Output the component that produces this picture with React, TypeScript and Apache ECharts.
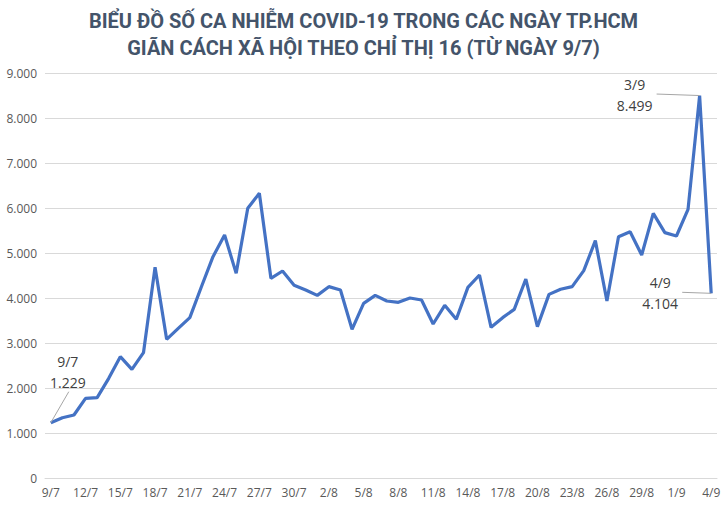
import React, { useEffect, useRef } from "react";
import * as echarts from "echarts";

const titleLines = [
  "BIỂU ĐỒ SỐ CA NHIỄM COVID-19 TRONG CÁC NGÀY TP.HCM",
  "GIÃN CÁCH XÃ HỘI THEO CHỈ THỊ 16 (TỪ NGÀY 9/7)",
];

const days = [
  "9/7", "10/7", "11/7", "12/7", "13/7", "14/7", "15/7", "16/7", "17/7", "18/7",
  "19/7", "20/7", "21/7", "22/7", "23/7", "24/7", "25/7", "26/7", "27/7", "28/7",
  "29/7", "30/7", "31/7", "1/8", "2/8", "3/8", "4/8", "5/8", "6/8", "7/8",
  "8/8", "9/8", "10/8", "11/8", "12/8", "13/8", "14/8", "15/8", "16/8", "17/8",
  "18/8", "19/8", "20/8", "21/8", "22/8", "23/8", "24/8", "25/8", "26/8", "27/8",
  "28/8", "29/8", "30/8", "31/8", "1/9", "2/9", "3/9", "4/9",
];

const cases = [
  1229, 1340, 1400, 1771, 1785, 2215, 2696, 2415, 2785, 4682,
  3082, 3326, 3563, 4250, 4918, 5400, 4548, 5993, 6326, 4437,
  4600, 4282, 4178, 4059, 4252, 4178, 3304, 3881, 4059, 3933,
  3904, 4000, 3956, 3422, 3837, 3526, 4237, 4511, 3348, 3563,
  3748, 4422, 3363, 4081, 4193, 4252, 4607, 5274, 3933, 5363,
  5474, 4956, 5881, 5452, 5378, 5970, 8499, 4104,
];

const annotated = ["9/7", "3/9", "4/9"];
// [label centre dx, label centre dy, leader start dx, leader start dy] relative to the point
const annotationOffset: Record<string, [number, number, number, number]> = {
  "9/7": [17, -51, 18, -31],
  "3/9": [-65, -0.5, -43, -1.5],
  "4/9": [-51, 0, -29, -1],
};

const fmt = (v: number) =>
  String(Math.round(v)).replace(/\B(?=(\d{3})+(?!\d))/g, ".");

export default function App() {
  const ref = useRef<HTMLDivElement>(null);
  useEffect(() => {
    if (!ref.current) return;
    const chart = echarts.init(ref.current, null, { renderer: "svg" });
    const font = "'Open Sans', 'Noto Sans', sans-serif";
    chart.setOption({
      animation: false,
      backgroundColor: "#ffffff",
      title: {
        text: titleLines.join("\n"),
        left: "center",
        top: 2,
        textStyle: {
          fontFamily: "Roboto, 'Noto Sans', sans-serif",
          fontWeight: "bold",
          fontSize: 20,
          lineHeight: 27,
          color: "#44546A",
        },
      },
      grid: { left: 45, right: 10, top: 73, bottom: 30, containLabel: false },
      xAxis: {
        type: "category",
        data: days,
        boundaryGap: true,
        axisLine: { lineStyle: { color: "#D9D9D9" } },
        axisTick: { interval: 2, length: 4, lineStyle: { color: "#D9D9D9" } },
        axisLabel: {
          interval: 2,
          color: "#595959",
          fontSize: 12,
          fontFamily: font,
          margin: 8,
        },
      },
      yAxis: {
        type: "value",
        min: 0,
        max: 9000,
        interval: 1000,
        axisLine: { show: false },
        axisTick: { show: false },
        splitLine: { lineStyle: { color: "#D9D9D9" } },
        axisLabel: {
          color: "#595959",
          fontSize: 12,
          fontFamily: font,
          margin: 8,
          formatter: (v: number) => fmt(v),
        },
      },
      series: [
        {
          type: "line",
          data: cases,
          showSymbol: false,
          lineStyle: { color: "#4472C4", width: 3.2 },
          itemStyle: { color: "#4472C4" },
          emphasis: { disabled: true },
        },
      ],
    });

    const graphics: any[] = [];
    annotated.forEach((name) => {
      const i = days.indexOf(name);
      const p = chart.convertToPixel({ seriesIndex: 0 }, [i, cases[i]]) as number[];
      const o = annotationOffset[name];
      graphics.push({
        type: "line",
        silent: true,
        shape: { x1: p[0] + o[2], y1: p[1] + o[3], x2: p[0], y2: p[1] },
        style: { stroke: "#A6A6A6", lineWidth: 1 },
        z: 10,
      });
      graphics.push({
        type: "text",
        silent: true,
        x: p[0] + o[0],
        y: p[1] + o[1],
        style: {
          text: `${name}\n${fmt(cases[i])}`,
          fill: "#404040",
          font: `14px ${font}`,
          lineHeight: 21,
          align: "center",
          verticalAlign: "middle",
        },
        z: 10,
      });
    });
    chart.setOption({ graphic: graphics });
    return () => chart.dispose();
  }, []);
  return (
    <div
      ref={ref}
      style={{ position: "fixed", left: 0, top: 0, width: 727, height: 508 }}
    />
  );
}
